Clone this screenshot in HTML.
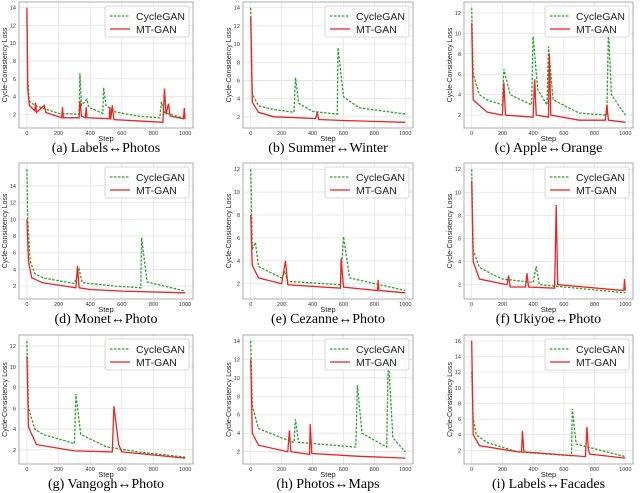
<!DOCTYPE html>
<html><head><meta charset="utf-8"><style>
body{margin:0;background:#fff;width:640px;height:493px;overflow:hidden}
svg{display:block}
</style></head><body>
<svg id="fig" width="640" height="493"></svg>
<script>
const captions=["(a) Labels\u2194Photos","(b) Summer\u2194Winter","(c) Apple\u2194Orange","(d) Monet\u2194Photo","(e) Cezanne\u2194Photo","(f) Ukiyoe\u2194Photo","(g) Vangogh\u2194Photo","(h) Photos\u2194Maps","(i) Labels\u2194Facades"];
const yTickMax=[14,14,12,14,12,12,12,14,16];
const xTicks=[0,200,400,600,800,1000];
const cycleData=[
[[0,13],[5,6],[15,3.5],[50,3],[100,2.7],[200,2.1],[330,2],[335,6.6],[345,3],[380,3.7],[390,2.8],[480,2.1],[485,5],[500,3],[550,2.3],[700,1.8],[840,1.6],[850,3.4],[870,2.2],[1000,1.5]],
[[0,14],[10,4.5],[50,3.2],[150,2.8],[280,2.5],[290,6.3],[310,3.5],[400,2.6],[560,2.3],[565,9.6],[600,4.2],[700,3],[1000,2.3]],
[[0,12.5],[10,6],[50,4],[100,3.5],[200,3],[210,6.5],[250,4],[390,3],[400,9.7],[430,4.5],[490,3],[500,8.7],[530,3.5],[700,2.2],[880,2],[890,10.3],[910,4],[1000,2]],
[[0,16],[5,10],[20,5],[50,3.5],[100,3],[300,2.3],[330,4],[350,2.4],[560,2],[720,1.8],[725,7.8],[760,2.5],[1000,1.4]],
[[0,12],[10,5],[30,5.6],[50,3.5],[200,2.5],[220,3],[240,2.2],[580,1.9],[600,6.1],[640,2.5],[1000,1.4]],
[[0,12],[10,5],[50,3.5],[150,2.8],[200,2.5],[400,2.2],[420,3.6],[440,2],[600,1.8],[1000,1.3]],
[[0,12.5],[10,6],[50,4],[100,3.5],[300,2.6],[310,7.4],[340,3.5],[500,2.3],[700,1.8],[1000,1.3]],
[[0,14],[10,7],[50,4.5],[200,3.5],[280,3],[290,5.5],[310,3],[680,2.5],[690,9.2],[720,4],[880,2.5],[890,12.2],[920,3.5],[1000,2]],
[[0,12],[10,6],[30,4],[100,3],[300,1.8],[650,1.3],[655,7.3],[680,2.8],[1000,1.2]]];
const mtData=[
[[0,14],[5,5],[15,3],[50,2.4],[55,3.3],[60,2.2],[110,3],[120,2.2],[220,1.6],[225,2.8],[230,1.6],[330,1.6],[335,3.5],[345,1.8],[370,1.6],[375,2.8],[380,1.6],[520,1.5],[525,2.8],[530,1.4],[540,3],[550,1.4],[860,1.1],[870,4.9],[880,2],[895,3.2],[905,1.8],[990,1.5],[995,2.7],[1000,1.5]],
[[0,13],[10,3.6],[50,2.5],[150,2],[300,1.9],[420,1.8],[430,2.5],[440,1.7],[600,1.6],[1000,1.4]],
[[0,11],[10,3.5],[100,2.3],[200,2],[210,5.2],[220,2],[400,1.8],[410,5.5],[420,2],[500,1.8],[505,8],[515,2],[700,1.5],[870,1.5],[880,3],[890,1.5],[1000,1.3]],
[[0,10],[10,5],[30,3],[100,2.4],[310,1.8],[320,4.4],[330,1.8],[400,1.6],[600,1.4],[1000,1.2]],
[[0,8],[10,3.6],[50,2.5],[200,2],[225,4],[240,1.9],[580,1.6],[585,4.2],[600,1.7],[820,1.4],[825,2.3],[830,1.4],[1000,1.2]],
[[0,11],[10,4],[50,2.5],[230,2],[240,2.8],[250,1.8],[350,1.8],[360,3],[370,1.8],[540,1.7],[550,8.9],[560,2],[990,1.5],[995,2.5],[1000,1.5]],
[[0,11],[10,4.2],[60,2.5],[300,1.9],[540,1.8],[550,6.2],[580,2.5],[600,1.8],[1000,1.2]],
[[0,12],[10,4],[50,2.7],[240,2],[250,4.3],[260,2],[380,1.7],[385,5],[395,1.8],[700,1.5],[1000,1.3]],
[[0,16],[10,4],[50,2.6],[300,1.8],[325,1.8],[330,4.5],[340,1.8],[740,1.2],[750,5],[760,2],[770,1.5],[1000,1]]];

const NS="http://www.w3.org/2000/svg";
const svg=document.getElementById('fig');
function mk(tag,attrs,parent,text){const e=document.createElementNS(NS,tag);for(const k in attrs)e.setAttribute(k,attrs[k]);if(text!==undefined)e.textContent=text;parent.appendChild(e);return e;}
const colL=[19,243,464],colW=[174,170,169];
const rowT=[2,163,335],rowB=[128,299,464];
for(let p=0;p<9;p++){
  const r=Math.floor(p/3),c=p%3;
  const L=colL[c],W=colW[c],T=rowT[r],B=rowB[r];
  const g=mk('g',{},svg);
  
  
  const all=cycleData[p].concat(mtData[p]).map(d=>d[1]);
  let mn=Math.min(...all),mx=Math.max(...all);const rg=mx-mn;mn-=0.05*rg;mx+=0.05*rg;
  const xs=v=>L+(v+50)/1100*W;
  const ys=v=>B-(v-mn)/(mx-mn)*(B-T);
  for(let t=2;t<=yTickMax[p];t+=2){
    const y=ys(t);
    const gl=mk('line',{x1:L,x2:L+W,y1:y,y2:y,stroke:'#e3e3e3','stroke-width':0.8},g);
    
    const tl=mk('text',{x:L-3,y:y+2,'font-size':5.5,'text-anchor':'end',fill:'#333','font-family':'Liberation Sans, sans-serif'},g,t);
    
  }
  xTicks.forEach(t=>{
    const x=xs(t);
    const gl=mk('line',{x1:x,x2:x,y1:T,y2:B,stroke:'#e3e3e3','stroke-width':0.8},g);
    
    const tl=mk('text',{x:x,y:B+7,'font-size':5.5,'text-anchor':'middle',fill:'#333','font-family':'Liberation Sans, sans-serif'},g,t);
    
  });
  const fr=mk('rect',{x:L,y:T,width:W,height:B-T,fill:'none',stroke:'#999','stroke-width':0.8},g);
  
  const pts=d=>d.map(q=>xs(q[0]).toFixed(1)+','+ys(q[1]).toFixed(1)).join(' ');
  const lc=mk('polyline',{points:pts(cycleData[p]),fill:'none',stroke:'#2ca02c','stroke-width':1.3,'stroke-dasharray':'2.5,1.5'},g);
  
  const lm=mk('polyline',{points:pts(mtData[p]),fill:'none',stroke:'#ee2222','stroke-width':1.3},g);
  
  const lx=L+W-88,ly=T+4;
  const lg=mk('g',{},g);
  
  mk('rect',{x:lx,y:ly,width:84,height:31,fill:'#fff','fill-opacity':0.85,stroke:'#ccc','stroke-width':0.8,rx:2},lg);
  mk('line',{x1:lx+5,x2:lx+25,y1:ly+10,y2:ly+10,stroke:'#2ca02c','stroke-width':1.2,'stroke-dasharray':'2.5,1.5'},lg);
  mk('line',{x1:lx+5,x2:lx+25,y1:ly+23,y2:ly+23,stroke:'#ee2222','stroke-width':1.2},lg);
  const t1=mk('text',{x:lx+31,y:ly+14,'font-size':10.5,fill:'#222','font-family':'Liberation Sans, sans-serif'},lg,'CycleGAN');
  
  const t2=mk('text',{x:lx+31,y:ly+27,'font-size':10.5,fill:'#222','font-family':'Liberation Sans, sans-serif'},lg,'MT-GAN');
  
  const yl=mk('text',{x:0,y:0,'font-size':7,fill:'#222','text-anchor':'middle','font-family':'Liberation Sans, sans-serif',transform:`translate(${L-12},${(T+B)/2}) rotate(-90)`},g,'Cycle-Consistency Loss');
  
  const xl=mk('text',{x:L+W/2,y:B+13,'font-size':7.5,fill:'#222','text-anchor':'middle','font-family':'Liberation Sans, sans-serif'},g,'Step');
  
  const cp=mk('text',{x:L+W/2,y:B+24,'font-size':14,fill:'#000','text-anchor':'middle','font-family':'Liberation Serif, serif'},g,captions[p]);
  
}
</script>
</body></html>
